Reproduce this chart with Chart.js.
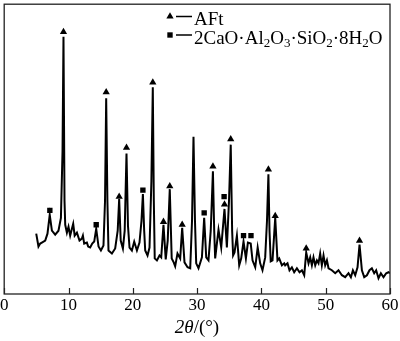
<!DOCTYPE html>
<html>
<head>
<meta charset="utf-8">
<script src="https://cdn.jsdelivr.net/npm/chart.js@4/dist/chart.umd.min.js"></script>
<style>
  html, body { margin: 0; padding: 0; background: #fff; }
  #wrap { width: 400px; height: 341px; }
</style>
</head>
<body>
<div id="wrap"><canvas id="xrd" width="400" height="341"></canvas></div>
<script>
// XRD pattern, 2θ in degrees vs. relative intensity (arbitrary units)
const twoTheta = [
  4.98, 5.33, 5.6, 5.86, 6.38, 6.73, 7.08, 7.42, 7.93, 8.44, 8.82, 9.07, 9.22, 9.38, 9.49, 9.75,
  10.0, 10.26, 10.53, 10.73, 10.96, 11.31, 11.71, 12.08, 12.24, 12.44, 12.86, 13.06, 13.37, 13.69,
  14.0, 14.31, 14.67, 15.04, 15.44, 15.68, 15.86, 16.05, 16.22, 16.75, 17.26, 17.65, 17.88, 18.12,
  18.46, 18.74, 19.02, 19.25, 19.49, 19.86, 20.22, 20.64, 21.04, 21.35, 21.57, 21.77, 21.93, 22.29,
  22.6, 22.89, 23.11, 23.27, 23.41, 23.75, 24.15, 24.42, 24.77, 25.12, 25.43, 25.75, 26.05, 26.36,
  26.59, 26.95, 27.37, 27.68, 28.04, 28.51, 28.93, 29.21, 29.44, 29.67, 29.86, 30.22, 30.75, 31.1,
  31.42, 31.77, 32.12, 32.46, 32.66, 32.81, 33.33, 33.75, 34.26, 34.63, 34.96, 35.23, 35.45, 35.6,
  35.82, 36.19, 36.55, 36.86, 37.22, 37.59, 37.9, 38.34, 38.62, 39.04, 39.42, 39.81, 40.17, 40.59,
  40.87, 41.09, 41.26, 41.45, 41.73, 42.15, 42.5, 42.77, 43.19, 43.55, 43.7, 44.06, 44.37, 44.74,
  45.1, 45.52, 45.93, 46.3, 46.66, 46.97, 47.33, 47.59, 47.85, 48.1, 48.37, 48.63, 48.88, 49.14,
  49.4, 49.66, 49.92, 50.19, 50.44, 50.96, 51.48, 51.99, 52.52, 53.03, 53.55, 53.92, 54.23, 54.59,
  54.95, 55.26, 55.63, 55.99, 56.41, 56.81, 57.18, 57.54, 57.85, 58.21, 58.58, 58.99, 59.41, 59.77, 60.0
];
const intensity = [
  61, 48, 51, 52, 54, 61, 80, 64, 60, 64, 77, 144, 260, 94, 70, 62,
  68, 59, 66, 71, 59, 62, 54, 56, 59, 51, 52, 48, 47, 51,
  53, 66, 48, 44, 49, 94, 198, 94, 44, 41, 46, 64, 96, 54,
  46, 64, 142, 69, 47, 44, 53, 44, 52, 74, 101, 64, 44, 39,
  47, 114, 209, 94, 36, 34, 39, 37, 70, 35, 54, 106, 36, 32,
  28, 41, 36, 67, 32, 27, 26, 74, 159, 74, 31, 26, 37, 77,
  37, 34, 64, 124, 64, 36, 65, 47, 86, 47, 94, 151, 64, 39,
  42, 59, 29, 36, 53, 36, 52, 51, 34, 27, 47, 31, 24, 37,
  74, 121, 64, 33, 34, 77, 34, 36, 29, 31, 29, 31, 24, 27,
  22, 26, 22, 24, 19, 42, 31, 37, 29, 37, 29, 34, 31, 41,
  29, 39, 29, 34, 26, 24, 21, 24, 19, 17, 21, 17, 24, 19,
  27, 50, 24, 17, 19, 24, 26, 21, 24, 16, 21, 17, 21, 22, 21
];

// Phase markers: ▲ AFt (ettringite), ■ 2CaO·Al2O3·SiO2·8H2O
const aftPeaks   = [9.22, 15.86, 17.88, 19.02, 23.11, 24.77, 25.75, 27.68, 32.46, 34.26, 35.23, 41.09, 42.15, 46.97, 55.26];
const aftMarkY   = [265, 204, 98.5, 148, 214, 73, 109, 70, 129, 90.5, 156.5, 126, 79, 46, 54];
const c2ashPeaks = [7.1, 14.31, 21.57, 31.1, 34.2, 37.22, 38.38];
const c2ashMarkY = [84.5, 70, 105, 82, 98.5, 59, 59];

const xTicks = [0, 10, 20, 30, 40, 50, 60];

const SERIF = '"Liberation Serif", "Times New Roman", serif';

const pairs = (xs, ys) => xs.map((x, i) => ({ x, y: ys[i] }));

// Frame, inward ticks, legend and axis title
const decor = {
  id: 'decor',
  afterDraw(chart) {
    const { ctx, chartArea: a, scales } = chart;
    const xs = scales.x;
    ctx.save();
    ctx.strokeStyle = '#222';
    ctx.lineWidth = 1.3;
    ctx.strokeRect(a.left, a.top, a.right - a.left, a.bottom - a.top);
    ctx.lineWidth = 1.2;
    ctx.beginPath();
    xTicks.forEach(v => {
      const px = Math.round(xs.getPixelForValue(v)) + 0.5;
      ctx.moveTo(px, a.bottom);
      ctx.lineTo(px, a.bottom - 6);
    });
    ctx.stroke();

    // legend
    ctx.fillStyle = '#000';
    ctx.strokeStyle = '#000';
    Chart.helpers.drawPoint(ctx, { pointStyle: 'triangle', radius: 4.2, borderWidth: 0 }, 170, 16.5);
    Chart.helpers.drawPoint(ctx, { pointStyle: 'rect', radius: 3.8, borderWidth: 0 }, 170, 35);
    ctx.lineWidth = 1.3;
    ctx.beginPath();
    ctx.moveTo(176, 16.5); ctx.lineTo(192, 16.5);
    ctx.moveTo(176, 35); ctx.lineTo(192, 35);
    ctx.stroke();

    ctx.textBaseline = 'alphabetic';
    ctx.textAlign = 'left';
    ctx.font = '19px ' + SERIF;
    ctx.fillText('AFt', 194, 24.5);

    const parts = [
      ['2CaO·Al', 0], ['2', 1], ['O', 0], ['3', 1], ['·SiO', 0], ['2', 1], ['·8H', 0], ['2', 1], ['O', 0]
    ];
    let x = 194;
    parts.forEach(([t, sub]) => {
      ctx.font = (sub ? '13px ' : '19px ') + SERIF;
      ctx.fillText(t, x, sub ? 47 : 43.5);
      x += ctx.measureText(t).width;
    });

    // axis title: 2θ/(°)
    const t1 = '2θ', t2 = '/(°)';
    ctx.font = 'italic 19px ' + SERIF;
    const w1 = ctx.measureText(t1).width;
    ctx.font = '19px ' + SERIF;
    const w2 = ctx.measureText(t2).width;
    let tx = 197 - (w1 + w2) / 2;
    ctx.font = 'italic 19px ' + SERIF;
    ctx.fillText(t1, tx, 333);
    ctx.font = '19px ' + SERIF;
    ctx.fillText(t2, tx + w1, 333);
    ctx.restore();
  }
};

new Chart(document.getElementById('xrd'), {
  type: 'scatter',
  data: {
    datasets: [
      {
        data: pairs(twoTheta, intensity),
        showLine: true,
        borderColor: '#000',
        borderWidth: 2,
        pointRadius: 0,
        tension: 0,
        order: 2
      },
      {
        data: pairs(aftPeaks, aftMarkY),
        pointStyle: 'triangle',
        pointRadius: 4.2,
        backgroundColor: '#000',
        borderWidth: 0,
        order: 1
      },
      {
        data: pairs(c2ashPeaks, c2ashMarkY),
        pointStyle: 'rect',
        pointRadius: 3.8,
        backgroundColor: '#000',
        borderWidth: 0,
        order: 1
      }
    ]
  },
  options: {
    responsive: false,
    animation: false,
    devicePixelRatio: 1,
    layout: { padding: { left: 4, right: 10, top: 1, bottom: 0 } },
    plugins: { legend: { display: false }, tooltip: { enabled: false } },
    events: [],
    scales: {
      x: {
        type: 'linear',
        min: 0,
        max: 60,
        afterBuildTicks: s => { s.ticks = xTicks.map(v => ({ value: v })); },
        ticks: { color: '#000', font: { family: SERIF, size: 17 }, padding: 1, maxRotation: 0 },
        grid: { display: false, drawTicks: false },
        border: { display: false },
        afterFit: s => { s.height = 47; s.paddingLeft = 0; s.paddingRight = 0; }
      },
      y: {
        display: false,
        min: 0,
        max: 293
      }
    }
  },
  plugins: [decor]
});
</script>
</body>
</html>
